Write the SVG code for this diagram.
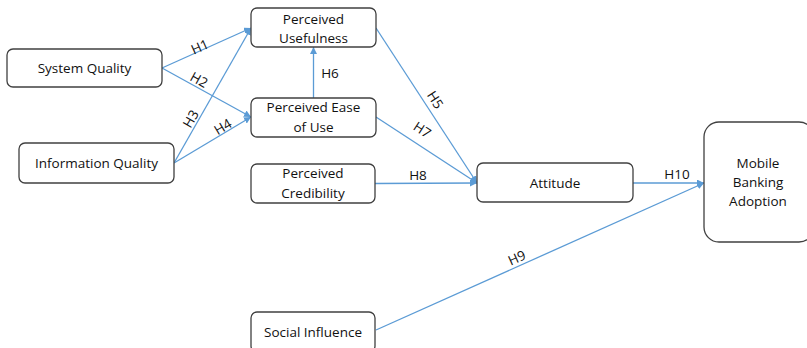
<svg xmlns="http://www.w3.org/2000/svg" width="807" height="348" viewBox="0 0 807 348">
<style>
.box{fill:#fff;stroke:#404040;stroke-width:1.3}
.t{font-family:"Open Sans","Liberation Sans",sans-serif;font-size:13.5px;fill:#111;text-anchor:middle}
.c{fill:none;stroke:#5b9bd5;stroke-width:1.3}
.l{font-family:"Open Sans","Liberation Sans",sans-serif;font-size:13.5px;fill:#111;text-anchor:middle}
</style>
<defs>
<marker id="ah" viewBox="0 0 10 10" refX="10" refY="5" markerWidth="7" markerHeight="7" markerUnits="userSpaceOnUse" orient="auto">
<path d="M0,0 L10,5 L0,10 z" fill="#5b9bd5"/>
</marker>
</defs>
<rect width="807" height="348" fill="#fff"/>
<g id="connectors">
<line class="c" x1="162" y1="68" x2="251" y2="28" marker-end="url(#ah)"/>
<line class="c" x1="162" y1="68" x2="251" y2="117" marker-end="url(#ah)"/>
<line class="c" x1="174" y1="163" x2="251" y2="28" marker-end="url(#ah)"/>
<line class="c" x1="174" y1="163" x2="251" y2="117" marker-end="url(#ah)"/>
<line class="c" x1="313.5" y1="98" x2="313.5" y2="47" marker-end="url(#ah)"/>
<line class="c" x1="376" y1="28" x2="477" y2="183" marker-end="url(#ah)"/>
<line class="c" x1="376" y1="117" x2="477" y2="183" marker-end="url(#ah)"/>
<line class="c" x1="375" y1="183.5" x2="477" y2="183" marker-end="url(#ah)"/>
<line class="c" x1="376" y1="330" x2="704" y2="183" marker-end="url(#ah)"/>
<line class="c" x1="633" y1="183" x2="704" y2="183" marker-end="url(#ah)"/>
<text class="l" transform="translate(200,47) rotate(-24)" y="4.5">H1</text>
<text class="l" transform="translate(199,80) rotate(29)" y="4.5">H2</text>
<text class="l" transform="translate(191,119) rotate(-60)" y="4.5">H3</text>
<text class="l" transform="translate(223,127) rotate(-31)" y="4.5">H4</text>
<text class="l" transform="translate(435,100) rotate(57)" y="4.5">H5</text>
<text class="l" x="330" y="77.5">H6</text>
<text class="l" transform="translate(422,130) rotate(33)" y="4.5">H7</text>
<text class="l" x="418" y="179.5">H8</text>
<text class="l" transform="translate(517,258) rotate(-24)" y="4.5">H9</text>
<text class="l" x="677" y="178.5">H10</text>
</g>
<g id="system-quality">
<rect class="box" x="7" y="49" width="155" height="38" rx="6"/>
<text class="t" x="84.5" y="72.5">System Quality</text>
</g>
<g id="information-quality">
<rect class="box" x="19" y="143" width="155" height="40" rx="6"/>
<text class="t" x="96.5" y="167.5">Information Quality</text>
</g>
<g id="perceived-usefulness">
<rect class="box" x="251" y="8" width="125" height="39" rx="6"/>
<text class="t" x="313.5" y="23.5">Perceived</text>
<text class="t" x="313.5" y="42.5">Usefulness</text>
</g>
<g id="perceived-ease-of-use">
<rect class="box" x="251" y="98" width="125" height="39" rx="6"/>
<text class="t" x="313.5" y="112">Perceived Ease</text>
<text class="t" x="313.5" y="131.5">of Use</text>
</g>
<g id="perceived-credibility">
<rect class="box" x="251" y="164" width="124" height="39" rx="6"/>
<text class="t" x="313" y="178">Perceived</text>
<text class="t" x="313" y="197.5">Credibility</text>
</g>
<g id="social-influence">
<rect class="box" x="251" y="312" width="124" height="40" rx="6"/>
<text class="t" x="313" y="336.5">Social Influence</text>
</g>
<g id="attitude">
<rect class="box" x="477" y="163" width="156" height="39" rx="6"/>
<text class="t" x="555" y="187.5">Attitude</text>
</g>
<g id="mobile-banking-adoption">
<rect class="box" x="704" y="122" width="110" height="120" rx="15"/>
<text class="t" x="758" y="167.5">Mobile</text>
<text class="t" x="758" y="187">Banking</text>
<text class="t" x="758" y="205.5">Adoption</text>
</g>
</svg>
